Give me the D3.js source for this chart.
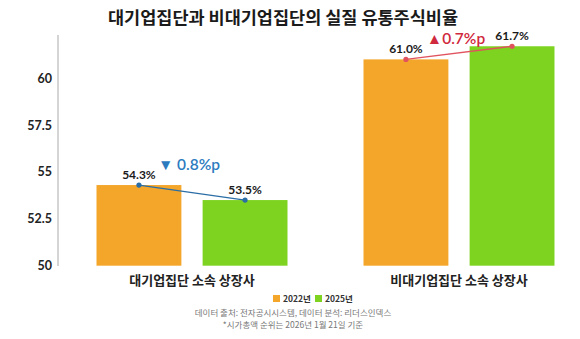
<!DOCTYPE html>
<html><head><meta charset="utf-8">
<script src="https://cdn.jsdelivr.net/npm/d3@7/dist/d3.min.js"></script>
<style>
body{margin:0;background:#fff;}
svg{display:block;}
</style></head>
<body>
<svg id="c" width="580" height="339"></svg>
<script>
const title = "대기업집단과 비대기업집단의 실질 유통주식비율";
const categories = ["대기업집단 소속 상장사", "비대기업집단 소속 상장사"];
const seriesNames = ["2022년", "2025년"];
const values2022 = [54.3, 61.0];
const values2025 = [53.5, 61.7];
const changeLabels = ["▼ 0.8%p", "▲0.7%p"];
const yTicks = [50, 52.5, 55, 57.5, 60];
const sourceLines = ["데이터 출처: 전자공시시스템, 데이터 분석: 리더스인덱스", "*시가총액 순위는 2026년 1월 21일 기준"];

const colors = ["#F4A62A", "#7ED321"];
const lineColors = ["#2B6EA6", "#E0535E"];
const changeColors = ["#2D7BBF", "#D0283C"];
const kr = "'Noto Sans CJK KR', 'Noto Sans', sans-serif";
const lat = "Lato, 'Noto Sans', sans-serif";

const svg = d3.select("#c");
const y = d3.scaleLinear().domain([50, 62.3]).range([265.7, 35]);
const x0 = d3.scaleBand().domain(categories).range([58.5, 592.5]).padding(0);
const x1 = d3.scaleBand().domain(seriesNames).range([38, 229]).paddingInner(0.2);

svg.append("text").attr("x", 283).attr("y", 24).attr("text-anchor", "middle")
  .attr("font-family", kr).attr("font-weight", 700).attr("font-size", 17.5).attr("fill", "#1a1a1a").text(title);

// axis
const yAxis = d3.axisLeft(y).tickValues(yTicks).tickSize(0).tickPadding(6).tickFormat(d => d);
const ag = svg.append("g").attr("transform", "translate(58,0)").call(yAxis);
ag.select(".domain").remove();
ag.append("line").attr("x1", 0).attr("x2", 0).attr("y1", 35).attr("y2", 266).attr("stroke", "#aaa").attr("stroke-width", 1);
ag.selectAll(".tick text").attr("font-family", lat).attr("font-weight", 700).attr("font-size", 12.5).attr("fill", "#222");

const data = categories.map((c, i) => ({cat: c, vals: [values2022[i], values2025[i]]}));
const groups = svg.selectAll("g.grp").data(data).enter().append("g").attr("class", "grp")
  .attr("transform", d => `translate(${x0(d.cat)},0)`);

groups.selectAll("rect").data(d => d.vals.map((v, j) => ({v, s: seriesNames[j], j}))).enter().append("rect")
  .attr("x", d => x1(d.s)).attr("width", x1.bandwidth())
  .attr("y", d => y(d.v)).attr("height", d => y(50) - y(d.v))
  .attr("fill", d => colors[d.j]);

groups.each(function(d, i) {
  const g = d3.select(this);
  const pts = d.vals.map((v, j) => [x1(seriesNames[j]) + x1.bandwidth() / 2, y(v)]);
  g.append("path").attr("d", d3.line()(pts)).attr("stroke", lineColors[i]).attr("stroke-width", 1.3).attr("fill", "none");
  g.selectAll("circle").data(pts).enter().append("circle").attr("cx", p => p[0]).attr("cy", p => p[1]).attr("r", 2.6).attr("fill", lineColors[i]);
  g.selectAll("text.val").data(d.vals).enter().append("text").attr("class", "val")
    .attr("x", (v, j) => x1(seriesNames[j]) + x1.bandwidth() / 2)
    .attr("y", v => y(v) - 6)
    .attr("text-anchor", "middle").attr("font-family", lat).attr("font-weight", 700).attr("font-size", 12)
    .attr("fill", "#1a1a1a").text(v => v.toFixed(1) + "%");
  g.append("text").attr("x", (pts[0][0] + pts[1][0]) / 2 - 3).attr("y", pts[0][1] - 15)
    .attr("text-anchor", "middle").attr("font-family", lat).attr("font-weight", 600).attr("font-size", 15.5)
    .attr("fill", changeColors[i]).text(changeLabels[i]);
  g.append("text").attr("x", x0.bandwidth() / 2).attr("y", 285).attr("text-anchor", "middle")
    .attr("font-family", kr).attr("font-weight", 700).attr("font-size", 13).attr("fill", "#222").text(d.cat);
});

// legend
const lg = svg.append("g").attr("transform", "translate(273,295)");
seriesNames.forEach((s, j) => {
  const ox = j * 42;
  lg.append("rect").attr("x", ox).attr("y", 0).attr("width", 7).attr("height", 7).attr("fill", colors[j]);
  lg.append("text").attr("x", ox + 10).attr("y", 7).attr("font-family", kr).attr("font-weight", 700)
    .attr("font-size", 8.5).attr("fill", "#333").text(s);
});

svg.selectAll("text.src").data(sourceLines).enter().append("text").attr("class", "src")
  .attr("x", 293).attr("y", (d, i) => 316 + i * 12).attr("text-anchor", "middle")
  .attr("font-family", kr).attr("font-size", 8.5).attr("fill", "#777").text(d => d);
</script>
</body></html>
